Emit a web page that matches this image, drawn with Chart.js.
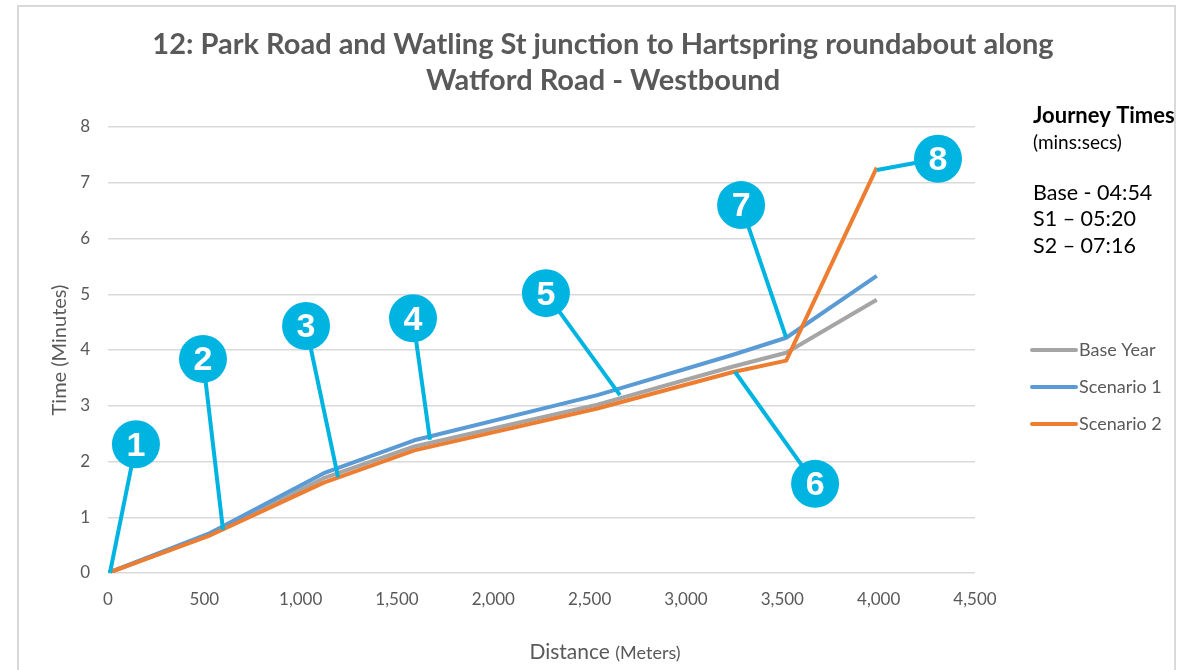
<!DOCTYPE html>
<html>
<head>
<meta charset="utf-8">
<title>Journey times - Watford Road Westbound</title>
<script src="https://cdn.jsdelivr.net/npm/chart.js@4/dist/chart.umd.min.js"></script>
<style>
  html, body { margin: 0; padding: 0; background: #fff; }
  canvas { display: block; }
</style>
</head>
<body>
<canvas id="journey" width="1194" height="670"></canvas>
<script>
// distance along the route (m) and cumulative time (min) per scenario
var distance  = [0, 520, 1120, 1590, 2540, 3240, 3520, 3990];
var baseYear  = [0, 0.68, 1.70, 2.27, 3.02, 3.70, 3.95, 4.90];
var scenario1 = [0, 0.70, 1.79, 2.38, 3.19, 3.91, 4.22, 5.33];
var scenario2 = [0, 0.66, 1.62, 2.20, 2.95, 3.60, 3.81, 7.27];

var seriesNames  = ['Base Year', 'Scenario 1', 'Scenario 2'];
var seriesColors = ['#a5a5a5', '#5b9bd5', '#ed7d31'];

var titleLines   = ['12: Park Road and Watling St junction to Hartspring roundabout along', 'Watford Road - Westbound'];
var journeyHead  = 'Journey Times';
var journeyUnits = '(mins:secs)';
var journeyRows  = ['Base - 04:54', 'S1 \u2013 05:20', 'S2 \u2013 07:16'];

// numbered callouts: point on the route [m, min] and bubble centre [m, min]
var calloutIds    = [1, 2, 3, 4, 5, 6, 7, 8];
var calloutPoint  = [[10, 0], [597, 0.77], [1194, 1.72], [1671, 2.39], [2657, 3.19], [3254, 3.61], [3519, 4.23], [3991, 7.23]];
var calloutBubble = [[145, 2.31], [493, 3.84], [1028, 4.43], [1583, 4.57], [2273, 5.02], [3670, 1.60], [3286, 6.60], [4308, 7.43]];

var FONT = 'Lato, "Open Sans", sans-serif';
var GREY_TXT = '#595959';
var CYAN = '#00b4e2';

function points(ys) {
  return distance.map(function (d, i) { return { x: d, y: ys[i] }; });
}

var extras = {
  id: 'extras',
  beforeDraw: function (chart) {
    var ctx = chart.ctx;
    ctx.save();
    ctx.strokeStyle = '#d9d9d9';
    ctx.lineWidth = 2;
    ctx.strokeRect(18, 6, 1157, 700);
    ctx.restore();
  },
  afterDatasetsDraw: function (chart) {
    var ctx = chart.ctx, xs = chart.scales.x, ys = chart.scales.y;
    ctx.save();
    ctx.strokeStyle = CYAN;
    ctx.lineWidth = 4;
    calloutIds.forEach(function (id, i) {
      ctx.beginPath();
      ctx.moveTo(xs.getPixelForValue(calloutBubble[i][0]), ys.getPixelForValue(calloutBubble[i][1]));
      ctx.lineTo(xs.getPixelForValue(calloutPoint[i][0]), ys.getPixelForValue(calloutPoint[i][1]));
      ctx.stroke();
    });
    calloutIds.forEach(function (id, i) {
      var bx = xs.getPixelForValue(calloutBubble[i][0]);
      var by = ys.getPixelForValue(calloutBubble[i][1]);
      ctx.fillStyle = CYAN;
      ctx.beginPath();
      ctx.arc(bx, by, 24, 0, Math.PI * 2);
      ctx.fill();
      ctx.fillStyle = '#fff';
      ctx.font = 'bold 34px "Liberation Sans", Arial, sans-serif';
      ctx.textAlign = 'center';
      ctx.textBaseline = 'middle';
      ctx.fillText(String(id), bx, by + 2);
    });
    ctx.restore();
  },
  afterDraw: function (chart) {
    var ctx = chart.ctx;
    ctx.save();

    // chart title
    ctx.fillStyle = GREY_TXT;
    ctx.font = 'bold 29px ' + FONT;
    ctx.textAlign = 'center';
    ctx.textBaseline = 'middle';
    titleLines.forEach(function (t, i) { ctx.fillText(t, 603, 45 + i * 36); });

    // x axis title, unit in a smaller size
    ctx.textBaseline = 'alphabetic';
    ctx.textAlign = 'left';
    ctx.font = '21px ' + FONT;
    var w1 = ctx.measureText('Distance ').width;
    ctx.font = '18px ' + FONT;
    var w2 = ctx.measureText('(Meters)').width;
    var sx = 605 - (w1 + w2) / 2;
    ctx.font = '21px ' + FONT;
    ctx.fillText('Distance ', sx, 659);
    ctx.font = '18px ' + FONT;
    ctx.fillText('(Meters)', sx + w1, 659);

    // journey time summary
    ctx.fillStyle = '#000';
    ctx.textBaseline = 'middle';
    ctx.font = 'bold 22px ' + FONT;
    ctx.fillText(journeyHead, 1033, 116);
    ctx.font = '19px ' + FONT;
    ctx.fillText(journeyUnits, 1033, 143);
    ctx.font = '21.5px ' + FONT;
    journeyRows.forEach(function (t, i) { ctx.fillText(t, 1033, 193 + i * 26.5); });

    // legend
    ctx.lineWidth = 4;
    ctx.lineCap = 'round';
    ctx.font = '18px ' + FONT;
    chart.data.datasets.forEach(function (ds, i) {
      var y = 350 + i * 37;
      ctx.strokeStyle = ds.borderColor;
      ctx.beginPath();
      ctx.moveTo(1032, y);
      ctx.lineTo(1076, y);
      ctx.stroke();
      ctx.fillStyle = GREY_TXT;
      ctx.fillText(ds.label, 1079, y);
    });
    ctx.restore();
  }
};

var sets = [baseYear, scenario1, scenario2].map(function (vals, i) {
  return {
    label: seriesNames[i],
    data: points(vals),
    borderColor: seriesColors[i],
    backgroundColor: seriesColors[i],
    borderWidth: 4,
    pointRadius: 0,
    tension: 0,
    fill: false,
    borderJoinStyle: 'round',
    order: 3 - i
  };
});

var chart = new Chart(document.getElementById('journey'), {
  type: 'line',
  data: { datasets: sets },
  plugins: [extras],
  options: {
    responsive: false,
    animation: false,
    devicePixelRatio: 1,
    layout: { padding: { top: 127, right: 219, bottom: 0, left: 0 } },
    plugins: { legend: { display: false }, tooltip: { enabled: false }, title: { display: false } },
    scales: {
      x: {
        type: 'linear',
        min: 0,
        max: 4500,
        ticks: { stepSize: 500, padding: 16, color: GREY_TXT, font: { family: FONT, size: 17 } },
        grid: { display: false, drawTicks: false },
        border: { display: false },
        afterFit: function (s) { s.height = 97; }
      },
      y: {
        min: 0,
        max: 8,
        ticks: { stepSize: 1, padding: 18, color: GREY_TXT, font: { family: FONT, size: 17 } },
        grid: { color: '#d9d9d9', lineWidth: 1.5, drawTicks: false },
        border: { display: false },
        title: { display: true, text: 'Time (Minutes)', color: GREY_TXT, font: { family: FONT, size: 20 }, padding: { top: 48 } },
        afterFit: function (s) { s.width = 108; }
      }
    }
  }
});
</script>
</body>
</html>
